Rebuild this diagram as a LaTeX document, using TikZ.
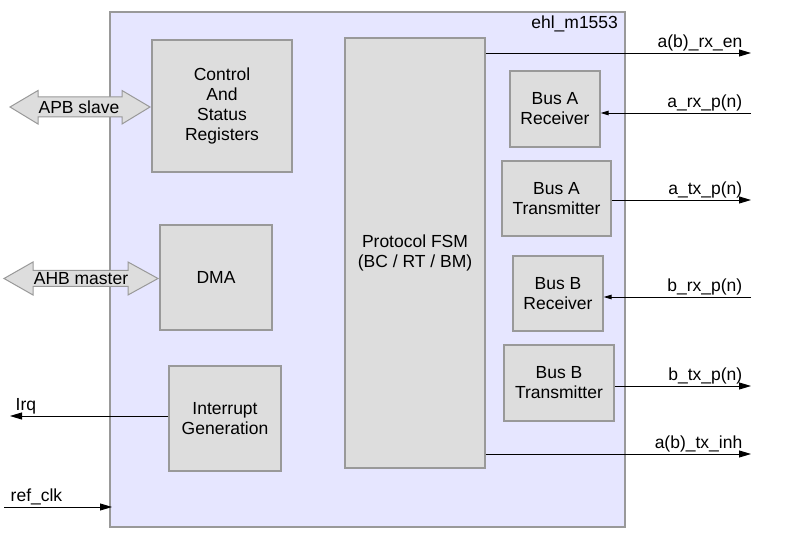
\documentclass[tikz,border=0pt]{standalone}
\usepackage{fontspec}
\setmainfont{Liberation Sans}
\usetikzlibrary{arrows.meta}
\definecolor{lav}{HTML}{E6E6FF}
\definecolor{boxfill}{HTML}{DDDDDD}
\definecolor{boxline}{HTML}{999999}
\tikzset{
  blk/.style={draw=boxline, line width=1.3pt, fill=boxfill, align=center, inner sep=0pt,
    font=\fontsize{17.5}{20}\selectfont},
  sig/.style={draw=black, line width=0.9pt, -{Triangle[length=12pt,width=7pt]}},
  sigsmall/.style={draw=black, line width=0.9pt, -{Triangle[length=8pt,width=4.5pt]}},
  lbl/.style={inner sep=1.5pt, font=\fontsize{17.5}{20}\selectfont},
  barrow/.style={draw=boxline, line width=1pt, fill=boxfill},
}
\begin{document}
\begin{tikzpicture}[x=1pt,y=-1pt]
\useasboundingbox (0,0) rectangle (785,545);
% outer block
\node[draw=boxline, line width=1.3pt, fill=lav, minimum width=515, minimum height=515, inner sep=0pt] (top) at (367.5,269.5) {};
\node[lbl, anchor=north east] (tname) at (top.north east) [xshift=-6pt, yshift=-3pt] {ehl\_m1553};
% inner blocks
\node[blk, minimum width=140, minimum height=132] (csr) at (222,106) {Control\\And\\Status\\Registers};
\node[blk, minimum width=112, minimum height=105] (dma) at (216,277.5) {DMA};
\node[blk, minimum width=112, minimum height=105] (irqgen) at (225,418.5) {Interrupt\\Generation};
\node[blk, minimum width=140, minimum height=430] (fsm) at (415,253) {Protocol FSM\\(BC / RT / BM)};
\node[blk, minimum width=90, minimum height=76] (arx) at (555,109) {Bus A\\Receiver};
\node[blk, minimum width=109, minimum height=75] (atx) at (556.5,198.5) {Bus A\\Transmitter};
\node[blk, minimum width=90, minimum height=75] (brx) at (558,293.5) {Bus B\\Receiver};
\node[blk, minimum width=110, minimum height=76] (btx) at (559,383) {Bus B\\Transmitter};
% block arrows
\draw[barrow] (10,107) -- (38,90.5) -- (38,97) -- (122,97) -- (122,90.5) -- (150,107)
  -- (122,124) -- (122,117) -- (38,117) -- (38,124) -- cycle;
\node[lbl, inner sep=0pt] (apb) at (79,107) {APB slave};
\draw[barrow] (4,278.5) -- (33,262) -- (33,270.5) -- (128,270.5) -- (128,262) -- (158,278.5)
  -- (128,295) -- (128,286.5) -- (33,286.5) -- (33,295) -- cycle;
\node[lbl, inner sep=0pt] (ahb) at (81,278.5) {AHB master};
% free ends
\coordinate (rxen) at (751,53);
\coordinate (arxp) at (751,113);
\coordinate (atxp) at (751,200);
\coordinate (brxp) at (751,297);
\coordinate (btxp) at (751,386);
\coordinate (txinh) at (751,454);
\coordinate (irq) at (10,416);
\coordinate (refclk) at (4,507);
\coordinate (clkin) at (112,507);
% signals
\draw[sig] (fsm.east |- rxen) -- (rxen);
\draw[sigsmall] (arxp) -- (arx.east |- arxp);
\draw[sig] (atx.east |- atxp) -- (atxp);
\draw[sigsmall] (brxp) -- (brx.east |- brxp);
\draw[sig] (btx.east |- btxp) -- (btxp);
\draw[sig] (fsm.east |- txinh) -- (txinh);
\draw[sig] (irqgen.west |- irq) -- (irq);
\draw[sig] (refclk) -- (clkin);
% labels
\node[lbl, anchor=south east] (lrxen) at (744,53) {a(b)\_rx\_en};
\node[lbl, anchor=south east] (larxp) at (744,113) {a\_rx\_p(n)};
\node[lbl, anchor=south east] (latxp) at (744,200) {a\_tx\_p(n)};
\node[lbl, anchor=south east] (lbrxp) at (744,297) {b\_rx\_p(n)};
\node[lbl, anchor=south east] (lbtxp) at (744,386) {b\_tx\_p(n)};
\node[lbl, anchor=south east] (ltxinh) at (744,454) {a(b)\_tx\_inh};
\node[lbl, anchor=south west] (lirq) at (14,416) {Irq};
\node[lbl, anchor=south west] (lclk) at (9,507) {ref\_clk};
\end{tikzpicture}
\end{document}
